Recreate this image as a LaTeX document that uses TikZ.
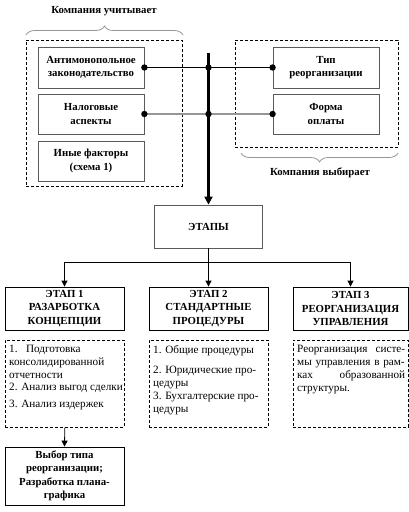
\documentclass[tikz,border=0pt]{standalone}
\usepackage{fontspec}
\setmainfont{Liberation Serif}
\usetikzlibrary{arrows.meta,decorations.pathreplacing}
\definecolor{frame}{RGB}{90,90,90}
\definecolor{wire}{RGB}{150,150,150}
\newcommand{\drawthick}{\draw[line width=2.6pt]}
\newcommand{\junction}[1]{\fill (#1) circle (3.2pt);}
\begin{document}
\begin{tikzpicture}[x=1pt,y=-1pt,
    every node/.style={font=\fontsize{10.5}{13.5}\selectfont},
    factor/.style={draw=frame,line width=0.8pt,minimum width=106pt,minimum height=41pt,align=center,inner sep=0pt,font=\fontsize{10.8}{13.5}\selectfont\bfseries},
    stage/.style={draw,line width=0.8pt,minimum width=119pt,minimum height=43pt,align=center,inner sep=0pt,font=\fontsize{10.8}{13.5}\selectfont\bfseries},
    group/.style={draw,densely dashed,line width=0.6pt,anchor=north west,inner sep=0pt},
    note/.style={anchor=north west,inner sep=0pt,align=left,font=\fontsize{11.2}{13}\selectfont},
    arrowtip/.style={-{Triangle[length=6pt,width=6pt]}},
    brace/.style={draw=wire,line width=0.8pt,decorate,decoration={brace,amplitude=9pt}}]
\useasboundingbox (0,0) rectangle (409,512);
% what the company takes into account / chooses
\node[group,minimum width=156pt,minimum height=146pt] (consider) at (26,40) {};
\node[group,minimum width=163pt,minimum height=107pt] (choose) at (235,40) {};
\draw[brace] (26,35) -- (183,35);
\draw[brace] (398,153) -- (241,153);
\node[font=\fontsize{10.8}{13.5}\selectfont\bfseries] (considerlbl) at (104,11) {Компания учитывает};
\node[font=\fontsize{10.8}{13.5}\selectfont\bfseries] (chooselbl) at (320,173) {Компания выбирает};
\node[factor] (antitrust) at (91,67.5) {Антимонопольное\\законодательство};
\node[factor,minimum height=40pt] (tax) at (91,114) {Налоговые\\аспекты};
\node[factor,minimum height=40pt] (other) at (91,161) {Иные факторы\\(схема 1)};
\node[factor] (type) at (326,67.5) {Тип\\реорганизации};
\node[factor,minimum height=40pt] (payment) at (326,114) {Форма\\оплаты};
% stages
\node[draw=frame,line width=0.8pt,minimum width=108pt,minimum height=43pt,inner sep=0pt,font=\fontsize{10.8}{13.5}\selectfont\bfseries] (stages) at (208.5,226.5) {ЭТАПЫ};
\coordinate (top) at (208.5,53);
\coordinate (cross1) at (208.5,67.5);
\coordinate (cross2) at (208.5,114);
\drawthick[-{Triangle[length=8pt,width=8pt]}] (top) -- (stages.north);
\draw[line width=0.9pt] (antitrust.east) -- (type.west);
\draw[wire,line width=1.2pt] (tax.east) -- (payment.west);
\junction{antitrust.east}\junction{cross1}\junction{type.west}
\junction{tax.east}\junction{cross2}\junction{payment.west}
\node[stage] (stage1) at (64.5,308.5) {ЭТАП 1\\РАЗАРБОТКА\\КОНЦЕПЦИИ};
\node[stage] (stage2) at (208.5,308.5) {ЭТАП 2\\СТАНДАРТНЫЕ\\ПРОЦЕДУРЫ};
\node[stage,minimum width=115pt] (stage3) at (350.5,308.5) {ЭТАП 3\\РЕОРГАНИЗАЦИЯ\\УПРАВЛЕНИЯ};
\coordinate (fork) at (208.5,262);
\draw[line width=0.8pt] (stages.south) -- (fork);
\draw[line width=0.8pt,arrowtip] (fork) -| (stage1.north);
\draw[line width=0.8pt,arrowtip] (fork) -- (stage2.north);
\draw[line width=0.8pt,arrowtip] (fork) -| (stage3.north);
% contents of the stages
\node[group,minimum width=119pt,minimum height=87pt] (tasks1) at (5,340) {};
\node[group,minimum width=119pt,minimum height=87pt] (tasks2) at (149,340) {};
\node[group,minimum width=115pt,minimum height=87pt] (tasks3) at (293,340) {};
\node[note] (text1) at (9,345) {1.\ \ \ Подготовка\\консолидированной\\отчетности\\[-1pt]2. Анализ выгод сделки\\[4pt]3. Анализ издержек};
\node[note] (text2) at (153,345) {1. Общие процедуры\\[7pt]2. Юридические про-\\цедуры\\3. Бухгалтерские про-\\цедуры};
\node[note,text width=108pt] (text3) at (297,345) {Реорганизация\hfill систе-\\мы управления в рам-\\ках\hfill образованной\\структуры.};
\node[stage,minimum height=58pt] (plan) at (64.5,476) {Выбор типа\\реорганизации;\\Разработка плана-\\графика};
\draw[line width=0.8pt,arrowtip] (tasks1.south) -- (plan.north);
\end{tikzpicture}
\end{document}
